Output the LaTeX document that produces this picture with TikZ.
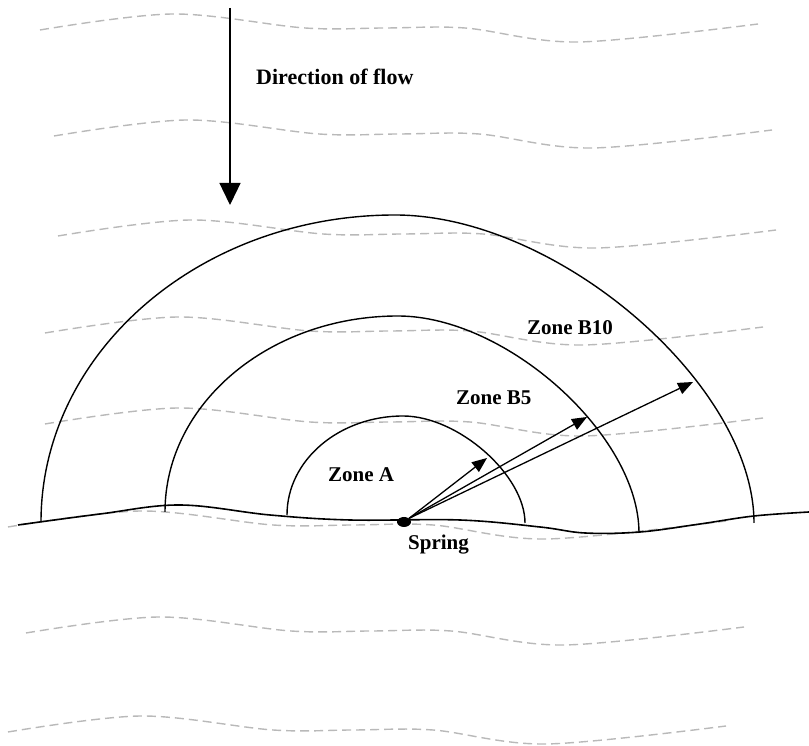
\documentclass[tikz,border=0pt]{standalone}
\usepackage{fontspec}
\setmainfont{Liberation Serif}
\usetikzlibrary{arrows.meta, shapes.geometric}

\begin{document}
\begin{tikzpicture}[
    x=1pt, y=1pt,
    font=\fontsize{21}{25}\selectfont\bfseries,
    lbl/.style={anchor=base west, inner sep=0pt},
    zone/.style={line width=1.4pt},
    ground/.style={line width=1.6pt},
    stream/.style={gray!55, line width=1.4pt, dash pattern=on 9pt off 5pt},
    arr/.style={-{Triangle[length=15pt, width=12pt]}, line width=1.3pt},
    flow/.style={-{Triangle[length=22pt, width=21pt]}, line width=1.4pt},
    springdot/.style={ellipse, fill=black, minimum width=14pt, minimum height=10pt, inner sep=0pt}
]
\useasboundingbox (0,0) rectangle (809,746);

% Streamlines
\foreach \sx/\sy in {40/716, 54/610, 58/510, 45/413, 45/322, 8/219, 26/113, 8/14}
  \draw[stream, shift={(\sx,\sy)}] plot[smooth, tension=0.55] coordinates {(0,0) (133,16) (265,2) (345,2) (425,2) (538,-12) (718,6)};

% Ground
\draw[ground] plot[smooth, tension=0.6] coordinates {(18,221) (100,232) (180,241) (270,231) (350,226) (460,226) (540,219) (585,213) (640,214) (700,222) (754,230) (809,234)};

% Zones
\draw[zone] (41,224) arc[start angle=180, end angle=90, x radius=354pt, y radius=307pt]
  .. controls +(162,0) and +(0,139) .. (754,223);
\draw[zone] (165,234) arc[start angle=180, end angle=90, x radius=233pt, y radius=196pt]
  .. controls +(108,0) and +(0,98) .. (639,213);
\draw[zone] (287,231) arc[start angle=180, end angle=90, x radius=116pt, y radius=99pt]
  .. controls +(55,0) and +(0,48) .. (525,223);

% Spring and radii
\node[springdot] (spring) at (404,224) {};
\coordinate (tipA) at (487,288);
\coordinate (tipB5) at (587,329);
\coordinate (tipB10) at (693,364);
\draw[arr] (spring.north east) -- (tipA);
\draw[arr] (spring.north east) -- (tipB5);
\draw[arr] (spring.north east) -- (tipB10);

% Flow
\coordinate (flowtop) at (230,738);
\coordinate (flowtip) at (230,541);
\draw[flow] (flowtop) -- (flowtip);

% Labels
\node[lbl, font=\fontsize{22}{26}\selectfont\bfseries] (dirlbl) at (256,661) {Direction of flow};
\node[lbl] (lblB10) at (527,411) {Zone B10};
\node[lbl] (lblB5) at (456,341) {Zone B5};
\node[lbl] (lblA) at (328,264) {Zone A};
\node[lbl] (lblspring) at (408,196) {Spring};

\end{tikzpicture}
\end{document}
